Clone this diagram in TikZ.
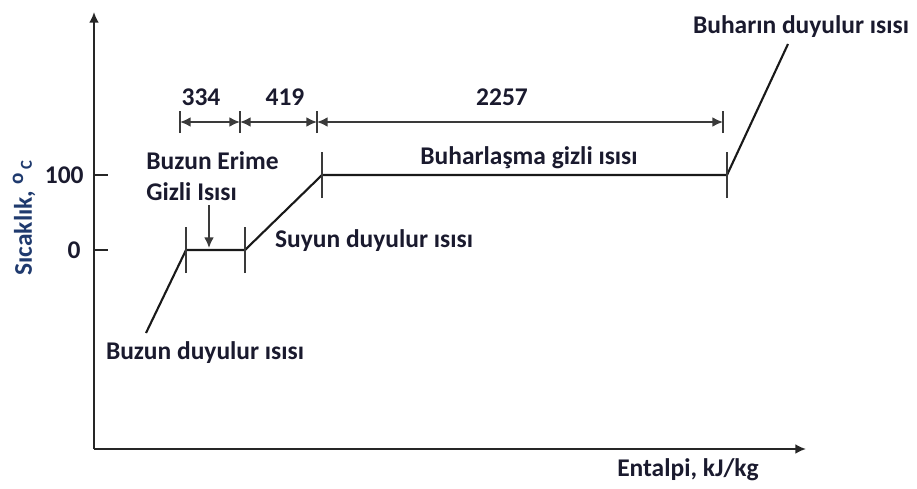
\documentclass[tikz,border=0pt]{standalone}
\usepackage{fontspec}
\setmainfont{Carlito}
\usepackage{tikz}
\usetikzlibrary{arrows.meta}
\definecolor{ink}{HTML}{1A1A2E}
\definecolor{axblue}{HTML}{1F3A6E}
\definecolor{dimgray}{HTML}{3A3A3A}
\tikzset{
  lbl/.style={font=\bfseries\fontsize{14.5}{18}\selectfont, text=ink, inner sep=0pt},
  axis/.style={line width=1.1pt, black!85},
  curve/.style={line width=1.2pt, black!90},
  dimline/.style={line width=1pt, dimgray},
  tickmark/.style={line width=1pt, dimgray}
}

\begin{document}
\begin{tikzpicture}[>={Latex[length=6pt,width=5.5pt]}, x=0.02cm, y=0.02cm]
  \useasboundingbox (0,0) rectangle (917,488);

  % axes
  \coordinate (o)    at (94,39);
  \coordinate (ytop) at (94,476);
  \coordinate (xend) at (806,39);
  \draw[axis,->] (o) -- (ytop);
  \draw[axis,->] (o) -- (xend);

  \coordinate (y100) at (94,313);
  \coordinate (y0)   at (94,238);
  \draw[axis] (y100) -- ++(14,0);
  \draw[axis] (y0)   -- ++(14,0);
  \node[lbl, anchor=east] (l100) at (84,313) {100};
  \node[lbl, anchor=east] (l0)   at (81,238) {0};

  % heating curve
  \coordinate (p0) at (146,155);
  \coordinate (p1) at (186,238);
  \coordinate (p2) at (245,238);
  \coordinate (p3) at (322,313);
  \coordinate (p4) at (727,313);
  \coordinate (p5) at (788,444);
  \draw[curve] (p0) -- (p1) -- (p2) -- (p3) -- (p4) -- (p5);
  \foreach \p in {p1,p2,p3,p4}
    \draw[tickmark] (\p) ++(0,-23) -- ++(0,46);

  % enthalpy spans
  \coordinate (d1) at (180,366);
  \coordinate (d2) at (240,366);
  \coordinate (d3) at (317,366);
  \coordinate (d4) at (723,366);
  \draw[dimline,<->] (d1) -- (d2);
  \draw[dimline,<->] (d2) -- (d3);
  \draw[dimline,<->] (d3) -- (d4);
  \foreach \d in {d1,d2,d3,d4}
    \draw[tickmark] (\d) ++(0,-11) -- ++(0,22);
  \node[lbl] (n334)  at (201,391) {334};
  \node[lbl] (n419)  at (285,391) {419};
  \node[lbl] (n2257) at (502,391) {2257};

  % labels
  \node[lbl, anchor=west, align=left] (erime) at (146,312) {Buzun Erime\\Gizli Isısı};
  \coordinate (mtop) at (209,283);
  \coordinate (mbot) at (209,240);
  \draw[dimline,->] (mtop) -- (mbot);

  \node[lbl] (suyun)  at (374,247) {Suyun duyulur ısısı};
  \node[lbl] (buharl) at (529,330) {Buharlaşma gizli ısısı};
  \node[lbl] (buhar)  at (801,461) {Buharın duyulur ısısı};
  \node[lbl] (buzun)  at (205,135) {Buzun duyulur ısısı};
  \node[lbl] (xlab)   at (688,18)  {Entalpi, kJ/kg};
  \node[lbl, text=axblue, rotate=90] (ylab) at (24,270)
    {Sıcaklık, \raisebox{5pt}{\fontsize{12}{12}\selectfont o}\,{\fontsize{9.5}{9.5}\selectfont C}};
\end{tikzpicture}
\end{document}
